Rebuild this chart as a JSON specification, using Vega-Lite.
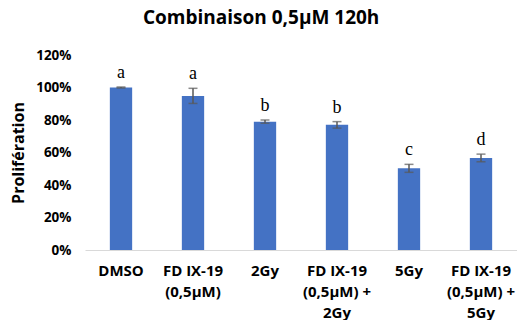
{
  "$schema": "https://vega.github.io/schema/vega-lite/v6.json",
  "width": 432,
  "height": 195,
  "autosize": "none",
  "padding": {"left": 85, "top": 55, "right": 0, "bottom": 70},
  "background": "white",
  "title": {
    "text": "Combinaison 0,5µM 120h",
    "font": "Open Sans",
    "fontSize": 19,
    "fontWeight": "bold",
    "color": "#000000",
    "anchor": "start",
    "frame": "group",
    "dx": 58,
    "offset": 20
  },
  "data": {
    "values": [
      {"cond": "DMSO", "value": 1.0, "lo": 0.997, "hi": 1.003, "letter": "a"},
      {"cond": "FD IX-19 (0,5µM)", "value": 0.948, "lo": 0.902, "hi": 0.995, "letter": "a"},
      {"cond": "2Gy", "value": 0.79, "lo": 0.78, "hi": 0.80, "letter": "b"},
      {"cond": "FD IX-19 (0,5µM) + 2Gy", "value": 0.771, "lo": 0.75, "hi": 0.79, "letter": "b"},
      {"cond": "5Gy", "value": 0.503, "lo": 0.478, "hi": 0.527, "letter": "c"},
      {"cond": "FD IX-19 (0,5µM) + 5Gy", "value": 0.566, "lo": 0.543, "hi": 0.59, "letter": "d"}
    ]
  },
  "encoding": {
    "x": {
      "field": "cond",
      "type": "nominal",
      "sort": null,
      "scale": {"paddingInner": 0.69, "paddingOuter": 0.345},
      "axis": {
        "title": null,
        "labelAngle": 0,
        "labelFont": "Open Sans",
        "labelFontSize": 15,
        "labelFontWeight": "bold",
        "labelColor": "#000000",
        "labelPadding": 13,
        "labelLineHeight": 21,
        "labelBaseline": "top",
        "labelOverlap": false,
        "ticks": false,
        "domainColor": "#d9d9d9",
        "domainWidth": 1,
        "labelExpr": "datum.label == 'FD IX-19 (0,5µM)' ? ['FD IX-19', '(0,5µM)'] : datum.label == 'FD IX-19 (0,5µM) + 2Gy' ? ['FD IX-19', '(0,5µM) +', '2Gy'] : datum.label == 'FD IX-19 (0,5µM) + 5Gy' ? ['FD IX-19', '(0,5µM) +', '5Gy'] : datum.label"
      }
    }
  },
  "layer": [
    {
      "mark": {"type": "bar", "color": "#4472C4"},
      "encoding": {
        "y": {
          "field": "value",
          "type": "quantitative",
          "scale": {"domain": [0, 1.2], "nice": false},
          "axis": {"title": "Prolifération"}
        }
      }
    },
    {
      "mark": {"type": "rule", "color": "#595959", "strokeWidth": 1.5},
      "encoding": {
        "y": {"field": "lo", "type": "quantitative"},
        "y2": {"field": "hi"}
      }
    },
    {
      "mark": {"type": "tick", "color": "#595959", "size": 9, "thickness": 1.5},
      "encoding": {"y": {"field": "lo", "type": "quantitative"}}
    },
    {
      "mark": {"type": "tick", "color": "#595959", "size": 9, "thickness": 1.5},
      "encoding": {"y": {"field": "hi", "type": "quantitative"}}
    },
    {
      "mark": {"type": "text", "font": "Liberation Serif", "fontSize": 18, "color": "#000000", "baseline": "middle", "dy": -14},
      "encoding": {
        "y": {"field": "hi", "type": "quantitative"},
        "text": {"field": "letter"}
      }
    }
  ],
  "config": {
    "view": {"stroke": null},
    "axisY": {
      "titleFont": "Open Sans",
      "titleFontSize": 16,
      "titleFontWeight": "bold",
      "titleColor": "#000000",
      "titlePadding": 9,
      "format": ".0%",
      "tickCount": 6,
      "labelFont": "Open Sans",
      "labelFontSize": 13.5,
      "labelFontWeight": "bold",
      "labelColor": "#000000",
      "labelPadding": 14,
      "labelOverlap": false,
      "ticks": false,
      "domain": false,
      "grid": false
    }
  }
}
